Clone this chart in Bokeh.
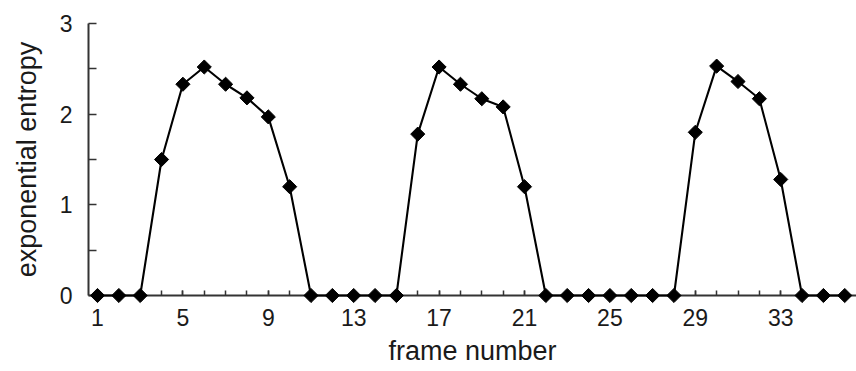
import numpy as np
from bokeh.plotting import figure
from bokeh.models import FixedTicker, Range1d
from bokeh.embed import file_html
from bokeh.resources import INLINE

frames = list(range(1, 37))
entropy = [0, 0, 0, 1.5, 2.33, 2.52, 2.33, 2.18, 1.97, 1.2,
           0, 0, 0, 0, 0, 1.78, 2.52, 2.33, 2.17, 2.08, 1.2,
           0, 0, 0, 0, 0, 0, 0, 1.8, 2.53, 2.36, 2.17, 1.28,
           0, 0, 0]
x_tick_labels = [1, 5, 9, 13, 17, 21, 25, 29, 33]
y_ticks = [0, 1, 2, 3]
y_minor = [0.5, 1.5, 2.5]

FONT = "Liberation Sans"
INK = "#1a1a1a"
AX = "#333333"

p = figure(width=856, height=371, output_backend="svg", toolbar_location=None,
           x_range=Range1d(0.578, 36.55), y_range=Range1d(0.0, 3.0),
           min_border_left=88, min_border_right=0, min_border_top=23,
           min_border_bottom=76)
p.outline_line_color = None
p.xgrid.visible = False
p.ygrid.visible = False

ln = p.line(frames, entropy, line_color="black", line_width=2.1)
sc = p.scatter(frames, entropy, marker="square", angle=np.pi / 4, size=10,
               fill_color="black", line_color="black")
ln.level = "overlay"
sc.level = "overlay"

xa = p.xaxis[0]
xa.ticker = FixedTicker(ticks=x_tick_labels, minor_ticks=frames)
xa.major_tick_in = 5
xa.major_tick_out = 0
xa.minor_tick_in = 5
xa.minor_tick_out = 0
xa.axis_line_width = 2
xa.axis_line_color = AX
xa.major_tick_line_color = AX
xa.minor_tick_line_color = AX
xa.major_tick_line_width = 1.5
xa.minor_tick_line_width = 1.5
xa.major_label_text_font = FONT
xa.major_label_text_font_size = "23px"
xa.major_label_text_color = INK
xa.major_label_standoff = 13
xa.axis_label = "frame number"
xa.axis_label_text_font = FONT
xa.axis_label_text_font_size = "27px"
xa.axis_label_text_font_style = "normal"
xa.axis_label_text_color = INK
xa.axis_label_standoff = 7

ya = p.yaxis[0]
ya.ticker = FixedTicker(ticks=y_ticks, minor_ticks=y_minor)
ya.major_tick_in = 8
ya.major_tick_out = 0
ya.minor_tick_in = 8
ya.minor_tick_out = 0
ya.axis_line_width = 2
ya.axis_line_color = AX
ya.major_tick_line_color = AX
ya.minor_tick_line_color = AX
ya.major_tick_line_width = 1.5
ya.minor_tick_line_width = 1.5
ya.major_label_text_font = FONT
ya.major_label_text_font_size = "23px"
ya.major_label_text_color = INK
ya.major_label_standoff = 16
ya.axis_label = "exponential entropy"
ya.axis_label_text_font = FONT
ya.axis_label_text_font_size = "27px"
ya.axis_label_text_font_style = "normal"
ya.axis_label_text_color = INK
ya.axis_label_standoff = 15

open("out.html", "w").write(file_html(p, INLINE))
